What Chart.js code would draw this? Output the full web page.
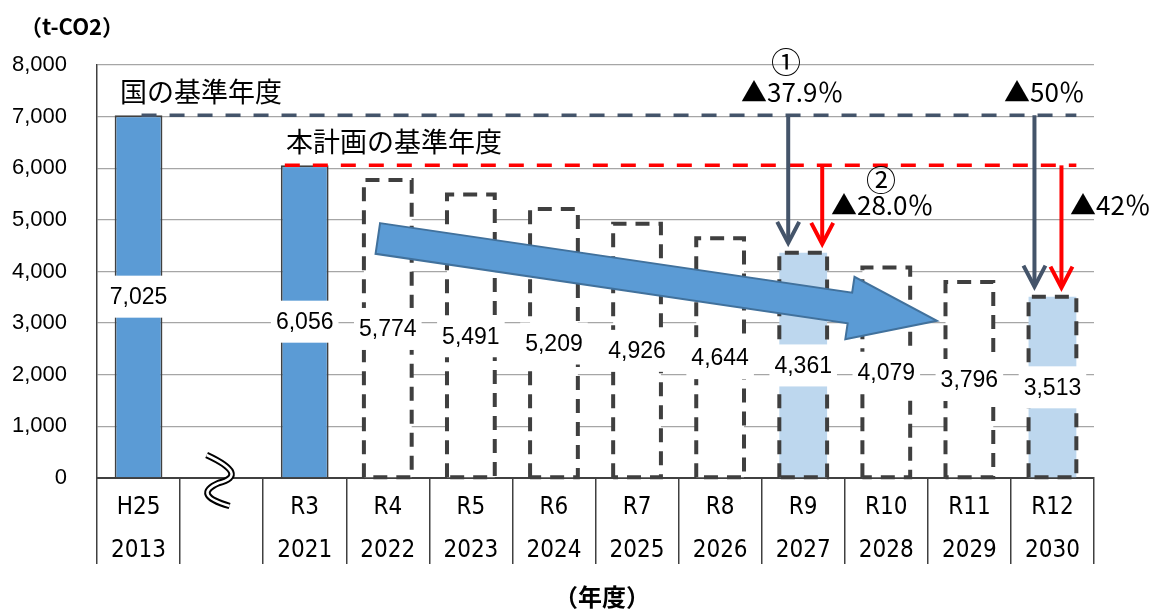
<!DOCTYPE html>
<html>
<head>
<meta charset="utf-8">
<script src="https://cdn.jsdelivr.net/npm/chart.js@4.4.1/dist/chart.umd.min.js"></script>
<style>
  body { margin: 0; background: #fff; }
  canvas { display: block; }
</style>
</head>
<body>
<canvas id="co2Chart" width="1157" height="609"></canvas>
<script>
// chart data
const eraLabels = ['H25', '', 'R3', 'R4', 'R5', 'R6', 'R7', 'R8', 'R9', 'R10', 'R11', 'R12'];
const yearLabels = ['2013', '', '2021', '2022', '2023', '2024', '2025', '2026', '2027', '2028', '2029', '2030'];
const emissions = [7025, null, 6056, 5774, 5491, 5209, 4926, 4644, 4361, 4079, 3796, 3513];
const barKinds = ['actual', 'gap', 'actual', 'plan', 'plan', 'plan', 'plan', 'plan', 'target', 'plan', 'plan', 'target'];
const yTickValues = [0, 1000, 2000, 3000, 4000, 5000, 6000, 7000, 8000];

const nationalBase = 7025;   // 国の基準年度 (H25)
const planBase = 6056;       // 本計画の基準年度 (R3)
const targetIndexes = [8, 11];
const trendFrom = { idx: 2.88, value: 4640 };
const trendTo = { idx: 9.61, value: 3045 };

const FONT_JP = '"Noto Sans CJK JP", "Noto Sans", sans-serif';
const FONT_NUM = '"Liberation Sans", Arial, sans-serif';
const SLATE = '#44546A';
const RED = '#FF0000';

const fills = barKinds.map(k => k === 'actual' ? '#5B9BD5' : k === 'target' ? '#BDD7EE' : '#FFFFFF');
const borders = barKinds.map(k => k === 'actual' ? 1.8 : 0);

function dashedOutline(ctx, bar) {
    const left = bar.x - bar.width / 2;
    const right = bar.x + bar.width / 2;
    ctx.save();
    ctx.strokeStyle = '#3F3F3F';
    ctx.lineWidth = 4;
    ctx.setLineDash([14, 9]);
    ctx.beginPath();
    ctx.moveTo(left, bar.base);
    ctx.lineTo(left, bar.y);
    ctx.lineTo(right, bar.y);
    ctx.lineTo(right, bar.base);
    ctx.lineTo(left, bar.base);
    ctx.stroke();
    ctx.restore();
}

function downArrow(ctx, x, yTop, yTip, color) {
    ctx.save();
    ctx.strokeStyle = color;
    ctx.lineWidth = 4;
    ctx.beginPath();
    ctx.moveTo(x, yTop);
    ctx.lineTo(x, yTip - 2);
    ctx.stroke();
    ctx.beginPath();
    ctx.moveTo(x - 11, yTip - 21);
    ctx.lineTo(x, yTip);
    ctx.lineTo(x + 11, yTip - 21);
    ctx.stroke();
    ctx.restore();
}

function refLine(ctx, x1, x2, y, color) {
    ctx.save();
    ctx.strokeStyle = color;
    ctx.lineWidth = 3.5;
    ctx.setLineDash([15, 13]);
    ctx.beginPath();
    ctx.moveTo(x1, y);
    ctx.lineTo(x2, y);
    ctx.stroke();
    ctx.restore();
}

function blockArrow(ctx, from, to) {
    const dx = to.x - from.x, dy = to.y - from.y;
    const len = Math.hypot(dx, dy);
    const ux = dx / len, uy = dy / len;
    const vx = -uy, vy = ux;
    const hw = 15.5, hh = 31.5, hl = 88;
    const pt = (a, b) => [from.x + ux * a + vx * b, from.y + uy * a + vy * b];
    const pts = [pt(0, -hw), pt(len - hl, -hw), pt(len - hl, -hh), pt(len, 0),
                 pt(len - hl, hh), pt(len - hl, hw), pt(0, hw)];
    ctx.save();
    ctx.beginPath();
    pts.forEach((p, i) => i ? ctx.lineTo(p[0], p[1]) : ctx.moveTo(p[0], p[1]));
    ctx.closePath();
    ctx.fillStyle = '#5B9BD5';
    ctx.fill();
    ctx.strokeStyle = '#41719C';
    ctx.lineWidth = 2;
    ctx.stroke();
    ctx.restore();
}

const overlayPlugin = {
    id: 'overlay',
    afterDatasetsDraw(chart) {
        const ctx = chart.ctx;
        const x = chart.scales.x, y = chart.scales.y;
        const bars = chart.getDatasetMeta(0).data;

        bars.forEach((bar, i) => {
            if (barKinds[i] === 'plan' || barKinds[i] === 'target') dashedOutline(ctx, bar);
        });

        blockArrow(ctx,
            { x: x.getPixelForValue(trendFrom.idx), y: y.getPixelForValue(trendFrom.value) },
            { x: x.getPixelForValue(trendTo.idx), y: y.getPixelForValue(trendTo.value) });

        const lastBar = bars[bars.length - 1];
        const lineEnd = lastBar.x + lastBar.width / 2;
        const yNat = y.getPixelForValue(nationalBase);
        const yPlan = y.getPixelForValue(planBase);
        refLine(ctx, bars[0].x + 3, lineEnd, yNat, SLATE);
        refLine(ctx, bars[2].x - bars[2].width / 2 + 4, lineEnd, yPlan, RED);

        const offsets = [[-15, 19], [-18, 9]];
        targetIndexes.forEach((idx, k) => {
            const bar = bars[idx];
            downArrow(ctx, bar.x + offsets[k][0], yNat, bar.y - 10, SLATE);
            downArrow(ctx, bar.x + offsets[k][1], yPlan, bar.y - 9, RED);
        });

        // value labels on white boxes
        ctx.save();
        ctx.font = '23px ' + FONT_NUM;
        ctx.textAlign = 'center';
        ctx.textBaseline = 'middle';
        bars.forEach((bar, i) => {
            const v = emissions[i];
            if (v == null) return;
            const text = v.toLocaleString('en-US');
            const cy = y.getPixelForValue(v / 2);
            const w = ctx.measureText(text).width + 10;
            ctx.fillStyle = '#FFFFFF';
            ctx.fillRect(bar.x - w / 2, cy - 21, w, 42);
            ctx.fillStyle = '#000000';
            ctx.fillText(text, bar.x, cy + 1);
        });
        ctx.restore();
    },
    afterDraw(chart) {
        const ctx = chart.ctx;
        const x = chart.scales.x, y = chart.scales.y;

        // axis break mark
        const cx = x.getPixelForValue(1), cy = y.getPixelForValue(0);
        ctx.save();
        ctx.translate(cx, cy);
        ctx.beginPath();
        ctx.moveTo(-15, -23);
        ctx.quadraticCurveTo(28, -3, -3, 5);
        ctx.quadraticCurveTo(-30, 17, 8, 28);
        ctx.lineCap = 'butt';
        ctx.strokeStyle = '#000000';
        ctx.lineWidth = 6.5;
        ctx.stroke();
        ctx.strokeStyle = '#FFFFFF';
        ctx.lineWidth = 2.5;
        ctx.stroke();
        ctx.restore();

        // annotation texts
        ctx.save();
        ctx.fillStyle = '#000000';
        ctx.textBaseline = 'middle';
        ctx.textAlign = 'left';
        ctx.font = '27px ' + FONT_JP;
        ctx.fillText('国の基準年度', 120, 92);
        ctx.fillText('本計画の基準年度', 286, 142);
        ctx.font = '26px ' + FONT_JP;
        ctx.fillText('▲37.9％', 741, 92);
        ctx.fillText('▲28.0％', 831, 205);
        ctx.fillText('▲50％', 1004, 92);
        ctx.fillText('▲42％', 1070, 205);
        ctx.textAlign = 'center';
        ctx.font = '30px ' + FONT_JP;
        ctx.fillText('①', 786, 62);
        ctx.fillText('②', 881, 180);
        ctx.font = 'bold 22px ' + FONT_JP;
        ctx.textAlign = 'left';
        ctx.fillText('（t-CO2）', 20, 27);
        ctx.textAlign = 'center';
        ctx.font = 'bold 24px ' + FONT_JP;
        ctx.fillText('（年度）', 602, 597);
        ctx.restore();
    }
};

const ctx = document.getElementById('co2Chart').getContext('2d');

new Chart(ctx, {
    type: 'bar',
    data: {
        labels: eraLabels.map((era, i) => [era, yearLabels[i]]),
        datasets: [{
            data: emissions,
            backgroundColor: fills,
            borderColor: '#404040',
            borderWidth: borders,
            categoryPercentage: 1,
            barPercentage: 0.575
        }]
    },
    options: {
        responsive: false,
        devicePixelRatio: 1,
        animation: false,
        layout: { padding: { left: 0, top: 65, right: 63, bottom: 0 } },
        plugins: {
            legend: { display: false },
            tooltip: { enabled: false }
        },
        scales: {
            x: {
                grid: {
                    drawOnChartArea: false,
                    drawTicks: true,
                    tickLength: 86,
                    color: '#404040',
                    lineWidth: 1.5
                },
                border: { color: '#404040', width: 2 },
                ticks: {
                    color: '#000000',
                    padding: -78,
                    maxRotation: 0,
                    autoSkip: false,
                    font: { family: '"Liberation Sans Narrow", "DejaVu Sans Condensed", "Liberation Sans", sans-serif', size: 24, lineHeight: 1.8 }
                },
                afterFit(scale) { scale.height = 131; }
            },
            y: {
                min: 0,
                max: 8000,
                afterBuildTicks(scale) { scale.ticks = yTickValues.map(v => ({ value: v })); },
                grid: { color: '#A6A6A6', lineWidth: 1.3, drawTicks: false },
                border: { color: '#404040', width: 1.5 },
                ticks: {
                    color: '#000000',
                    padding: 30,
                    font: { family: FONT_NUM, size: 22 },
                    callback: v => v.toLocaleString('en-US')
                },
                afterFit(scale) { scale.width = 97; }
            }
        }
    },
    plugins: [overlayPlugin]
});
</script>
</body>
</html>
